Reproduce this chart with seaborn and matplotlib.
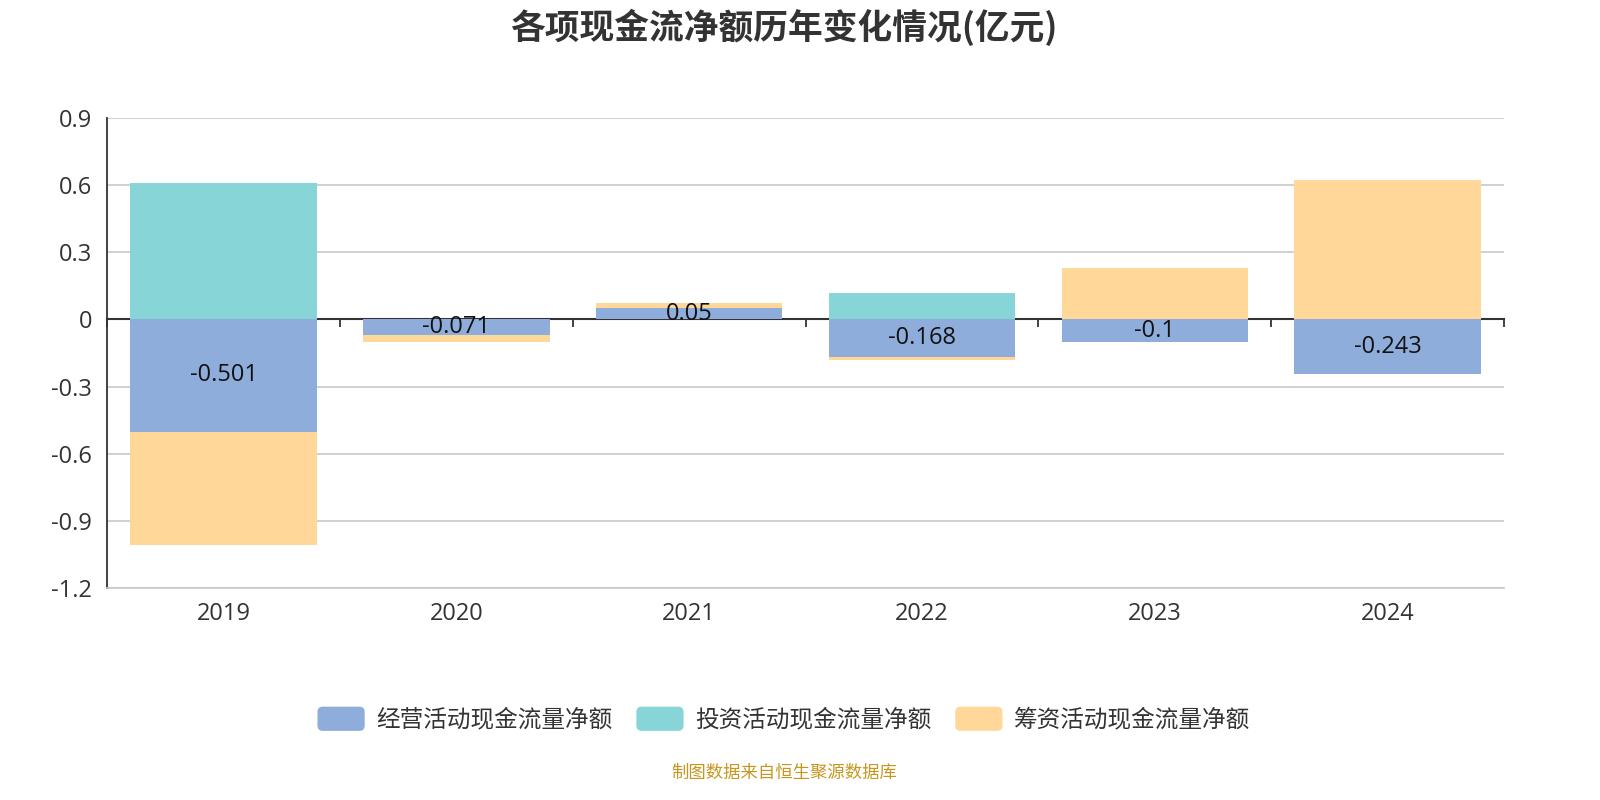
import numpy as np
import pandas as pd
import matplotlib
matplotlib.use("Agg")
import matplotlib.pyplot as plt
import matplotlib.patches as mpatches
from matplotlib.legend_handler import HandlerPatch
import seaborn as sns

YEARS = ["2019", "2020", "2021", "2022", "2023", "2024"]
OPERATING = [-0.501, -0.071, 0.05, -0.168, -0.1, -0.243]
INVESTING = [0.61, 0.0, 0.0, 0.12, 0.0, 0.0]
FINANCING = [-0.506, -0.03, 0.022, -0.015, 0.229, 0.624]

SERIES = ["经营活动现金流量净额", "投资活动现金流量净额", "筹资活动现金流量净额"]
COLORS = ["#8FADDB", "#88D5D8", "#FFD899"]
YTICKS = [0.9, 0.6, 0.3, 0, -0.3, -0.6, -0.9, -1.2]
YTICK_LABELS = ["0.9", "0.6", "0.3", "0", "-0.3", "-0.6", "-0.9", "-1.2"]

NUM_FONT = ["Open Sans", "Noto Sans CJK SC", "DejaVu Sans"]
CJK_FONT = ["Noto Sans CJK SC", "DejaVu Sans"]

sns.set_theme(style="white")
plt.rcParams["font.family"] = CJK_FONT


class RoundHandler(HandlerPatch):
    def create_artists(self, legend, orig_handle, xdescent, ydescent,
                       width, height, fontsize, trans):
        p = mpatches.FancyBboxPatch(
            (-xdescent, -ydescent), width, height,
            boxstyle=mpatches.BoxStyle("Round", pad=0, rounding_size=height * 0.22),
            facecolor=orig_handle.get_facecolor(), edgecolor="none",
            transform=trans)
        return [p]


fig = plt.figure(figsize=(16, 8), dpi=100)
ax = fig.add_axes([0.067, 0.265, 0.873, 0.5875])

pos_base = np.zeros(len(YEARS))
neg_base = np.zeros(len(YEARS))
for name, vals, color in zip(SERIES, [OPERATING, INVESTING, FINANCING], COLORS):
    vals = np.array(vals)
    bottom = np.where(vals >= 0, pos_base, neg_base)
    df = pd.DataFrame({"year": YEARS, "value": vals})
    sns.barplot(data=df, x="year", y="value", order=YEARS, color=color,
                width=0.8, bottom=bottom, linewidth=0, saturation=1,
                errorbar=None, ax=ax, zorder=3)
    pos_base = pos_base + np.where(vals >= 0, vals, 0)
    neg_base = neg_base + np.where(vals < 0, vals, 0)

# labels on operating series
labels = [f"{v:g}" for v in OPERATING]
ax.bar_label(ax.containers[0], labels=labels, label_type="center",
             fontsize=17, color="#111111", zorder=5, family=NUM_FONT)

ax.set_xlim(-0.5, len(YEARS) - 0.5)
ax.set_ylim(-1.2, 0.9)
ax.set_yticks(YTICKS)
ax.set_yticklabels(YTICK_LABELS, family=NUM_FONT)
ax.set_xticks(range(len(YEARS)))
ax.set_xticklabels(YEARS, family=NUM_FONT)
ax.set_xlabel("")
ax.set_ylabel("")
for y in YTICKS:
    if y != 0:
        ax.axhline(y, color="#c8c8c8", linewidth=1.2, zorder=1)

for s in ["top", "right"]:
    ax.spines[s].set_visible(False)
ax.spines["bottom"].set_color("#c8c8c8")
ax.spines["left"].set_color("#333333")
ax.spines["left"].set_linewidth(1.3)
ax.tick_params(axis="x", length=0, pad=10, labelsize=17, labelcolor="#333333")
ax.tick_params(axis="y", length=6, width=1.3, color="#333333", direction="out",
               pad=5, labelsize=17, labelcolor="#333333")

# zero axis line with category boundary ticks
zero_frac = 1.2 / 2.1
sec = ax.secondary_xaxis(zero_frac)
sec.xaxis.set_ticks_position("bottom")
sec.set_xticks(np.arange(-0.5, len(YEARS), 1.0))
sec.tick_params(axis="x", which="both", direction="out", length=6, width=1.3,
                color="#333333", labelbottom=False, labeltop=False)
for s in sec.spines.values():
    s.set_visible(False)
sec.spines["bottom"].set_visible(True)
sec.spines["bottom"].set_color("#333333")
sec.spines["bottom"].set_linewidth(1.5)

fig.text(0.49, 0.966, "各项现金流净额历年变化情况(亿元)", ha="center", va="center",
         fontsize=25, fontweight="bold", color="#333333")

handles = [mpatches.Patch(facecolor=c, edgecolor="none", label=n)
           for n, c in zip(SERIES, COLORS)]
fig.legend(handles=handles, loc="center", bbox_to_anchor=(0.49, 0.101), ncol=3,
           frameon=False, fontsize=17, handlelength=2.0, handleheight=1.2,
           handletextpad=0.5, columnspacing=1.0, labelcolor="#333333",
           handler_map={mpatches.Patch: RoundHandler()})

fig.text(0.49, 0.034, "制图数据来自恒生聚源数据库", ha="center", va="center",
         fontsize=12.5, color="#C8961E")

fig.savefig("out.png", dpi=100)
